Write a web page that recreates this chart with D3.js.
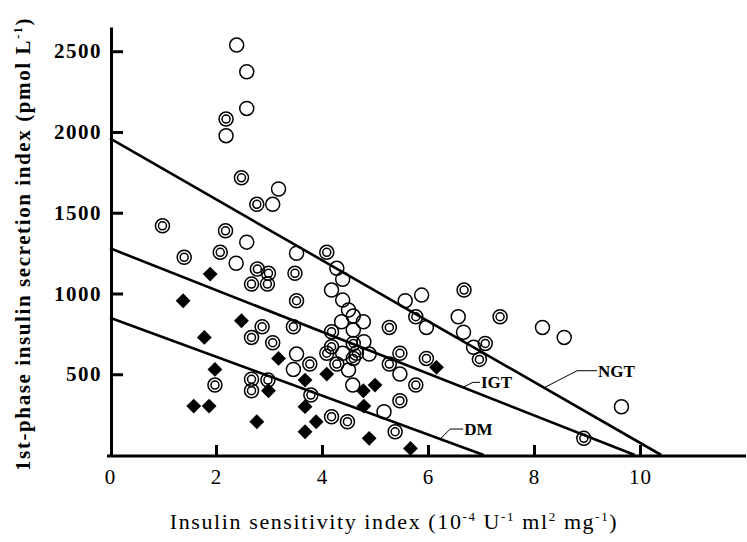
<!DOCTYPE html>
<html>
<head>
<meta charset="utf-8">
<script src="https://cdn.jsdelivr.net/npm/d3@7"></script>
<style>
  body { margin: 0; background: #fff; }
  svg { display: block; }
  text { font-family: 'Liberation Serif', 'DejaVu Serif', serif; fill: #000; }
</style>
</head>
<body>
<svg id="chart" width="747" height="542"></svg>
<script>
// NGT: open circles [insulin sensitivity, 1st-phase secretion]
const ngtPoints = [
  [2.39, 2538], [2.58, 2373], [2.58, 2146], [2.19, 1977], [3.18, 1647], [3.07, 1552],
  [2.58, 1318], [2.38, 1187], [3.52, 1249], [3.52, 625], [3.46, 530], [4.28, 1156],
  [4.39, 1088], [4.18, 1021], [4.39, 959], [4.50, 898], [4.59, 860], [4.78, 825],
  [4.37, 825], [4.59, 774], [4.79, 701], [5.57, 955], [5.88, 990], [5.97, 790],
  [4.39, 630], [4.89, 625], [4.50, 526], [5.47, 501], [4.58, 433], [5.17, 268],
  [6.57, 856], [6.67, 760], [6.86, 667], [8.16, 790], [8.57, 728], [9.65, 299]
];

// IGT: double circles
const igtPoints = [
  [2.19, 2080], [2.48, 1716], [2.77, 1552], [0.99, 1419], [2.18, 1388], [1.40, 1224],
  [2.08, 1255], [2.78, 1151], [2.99, 1125], [2.67, 1058], [2.97, 1058], [3.49, 1125],
  [3.52, 955], [2.87, 794], [2.67, 728], [3.07, 695], [3.46, 794], [1.98, 433],
  [2.67, 469], [2.67, 398], [2.98, 464], [4.09, 1255], [4.18, 763], [5.27, 790],
  [5.77, 856], [4.59, 691], [4.18, 670], [4.09, 630], [4.65, 630], [3.77, 563],
  [4.28, 563], [4.59, 598], [5.47, 630], [5.27, 563], [5.97, 598], [5.77, 433],
  [3.79, 371], [5.47, 336], [4.18, 237], [4.48, 206], [5.38, 144], [6.68, 1021],
  [7.36, 856], [7.08, 691], [6.97, 592], [8.94, 103]
];

// DM: filled diamonds
const dmPoints = [
  [1.89, 1120], [1.38, 955], [2.48, 831], [1.78, 728], [3.18, 598], [1.98, 530],
  [2.99, 398], [1.58, 303], [1.87, 303], [2.77, 206], [3.68, 464], [4.09, 501],
  [4.78, 398], [5.00, 433], [6.16, 543], [3.68, 299], [4.79, 303], [3.89, 206],
  [3.68, 144], [4.89, 103], [5.67, 41]
];

// regression lines: [start, end]
const ngtLine = [[0, 1960], [10.4, 0]];
const igtLine = [[0, 1280], [9.9, 0]];
const dmLine = [[0, 850], [7.05, 0]];

const xTicks = [0, 2, 4, 6, 8, 10];
const yTicks = [500, 1000, 1500, 2000, 2500];

const svg = d3.select('#chart');

const xScale = d3.scaleLinear().domain([0, 12]).range([110, 746]);
const yScale = d3.scaleLinear().domain([0, 2650]).range([455, 27]);

// axes
const xAxis = d3.axisBottom(xScale)
  .tickValues(xTicks)
  .tickSizeInner(-11)
  .tickSizeOuter(0)
  .tickPadding(13)
  .tickFormat(d3.format('d'));

const yAxis = d3.axisLeft(yScale)
  .tickValues(yTicks)
  .tickSizeInner(-12)
  .tickSizeOuter(0)
  .tickPadding(9)
  .tickFormat(d3.format('d'));

const xAxisG = svg.append('g')
  .attr('transform', `translate(0, ${yScale(0) + 1})`)
  .call(xAxis);
xAxisG.select('.domain').attr('stroke-width', 3).attr('d', `M${xScale(0) - 3},0H${xScale(12)}`);
xAxisG.selectAll('.tick line').attr('stroke-width', 3);
xAxisG.selectAll('.tick').filter(d => d === 0).select('line').remove();
xAxisG.selectAll('.tick text')
  .attr('font-family', 'Liberation Serif')
  .attr('font-size', 21)
  .style('letter-spacing', '1px');

const yAxisG = svg.append('g')
  .attr('transform', `translate(${xScale(0) + 1}, 0)`)
  .call(yAxis);
yAxisG.select('.domain').attr('stroke-width', 3);
yAxisG.selectAll('.tick line').attr('stroke-width', 3);
yAxisG.selectAll('.tick text')
  .attr('font-family', 'Liberation Serif')
  .attr('font-size', 21)
  .attr('font-weight', 'bold')
  .style('letter-spacing', '1.5px');

// axis titles
const xTitle = svg.append('text')
  .attr('x', 394)
  .attr('y', 529)
  .attr('text-anchor', 'middle')
  .attr('font-size', 22)
  .style('letter-spacing', '1.6px');
xTitle.append('tspan').text('Insulin sensitivity index (10');
xTitle.append('tspan').attr('dy', -8).attr('font-size', 13).text('-4');
xTitle.append('tspan').attr('dy', 8).text(' U');
xTitle.append('tspan').attr('dy', -8).attr('font-size', 13).text('-1');
xTitle.append('tspan').attr('dy', 8).text(' ml');
xTitle.append('tspan').attr('dy', -8).attr('font-size', 13).text('2');
xTitle.append('tspan').attr('dy', 8).text(' mg');
xTitle.append('tspan').attr('dy', -8).attr('font-size', 13).text('-1');
xTitle.append('tspan').attr('dy', 8).text(')');

const yTitle = svg.append('text')
  .attr('transform', 'translate(30, 244) rotate(-90)')
  .attr('text-anchor', 'middle')
  .attr('font-size', 21)
  .attr('font-weight', 'bold')
  .style('letter-spacing', '1.6px');
yTitle.append('tspan').text('1st-phase insulin secretion index (pmol L');
yTitle.append('tspan').attr('dy', -8).attr('font-size', 12).text('-1');
yTitle.append('tspan').attr('dy', 8).text(')');

// regression lines
const line = d3.line().x(d => xScale(d[0])).y(d => yScale(d[1]));
[ngtLine, igtLine, dmLine].forEach(l => {
  svg.append('path')
    .attr('d', line(l))
    .attr('fill', 'none')
    .attr('stroke', '#000')
    .attr('stroke-width', 2.6);
});

// points
const g = svg.append('g');

g.selectAll('circle.ngt').data(ngtPoints)
  .enter().append('circle')
  .attr('class', 'ngt')
  .attr('cx', d => xScale(d[0]))
  .attr('cy', d => yScale(d[1]))
  .attr('r', 7)
  .attr('fill', 'none')
  .attr('stroke', '#000')
  .attr('stroke-width', 1.5);

const igtG = g.selectAll('g.igt').data(igtPoints)
  .enter().append('g')
  .attr('class', 'igt')
  .attr('transform', d => `translate(${xScale(d[0])}, ${yScale(d[1])})`);
igtG.append('circle').attr('r', 7).attr('fill', 'none').attr('stroke', '#000').attr('stroke-width', 1.5);
igtG.append('circle').attr('r', 4).attr('fill', 'none').attr('stroke', '#000').attr('stroke-width', 1.5);

g.selectAll('path.dm').data(dmPoints)
  .enter().append('path')
  .attr('class', 'dm')
  .attr('d', d3.symbol(d3.symbolSquare, 110))
  .attr('transform', d => `translate(${xScale(d[0])}, ${yScale(d[1])}) rotate(45)`)
  .attr('fill', '#000');

// line labels with leaders
const labels = [
  { name: 'NGT', l: ngtLine, at: 8.19, dx1: 33, dy1: -17, dx2: 53 },
  { name: 'IGT', l: igtLine, at: 6.66, dx1: 10, dy1: -5, dx2: 17 },
  { name: 'DM', l: dmLine, at: 6.23, dx1: 10, dy1: -10, dx2: 23 }
];
labels.forEach(lb => {
  const [p0, p1] = lb.l;
  const yv = p0[1] + (p1[1] - p0[1]) * (lb.at - p0[0]) / (p1[0] - p0[0]);
  const ax = xScale(lb.at), ay = yScale(yv);
  svg.append('path')
    .attr('d', `M${ax},${ay}L${ax + lb.dx1},${ay + lb.dy1}H${ax + lb.dx2}`)
    .attr('fill', 'none')
    .attr('stroke', '#000')
    .attr('stroke-width', 1);
  svg.append('text')
    .attr('x', ax + lb.dx2 + 1)
    .attr('y', ay + lb.dy1 + 6)
    .attr('font-size', 17)
    .attr('font-weight', 'bold')
    .text(lb.name);
});
</script>
</body>
</html>
